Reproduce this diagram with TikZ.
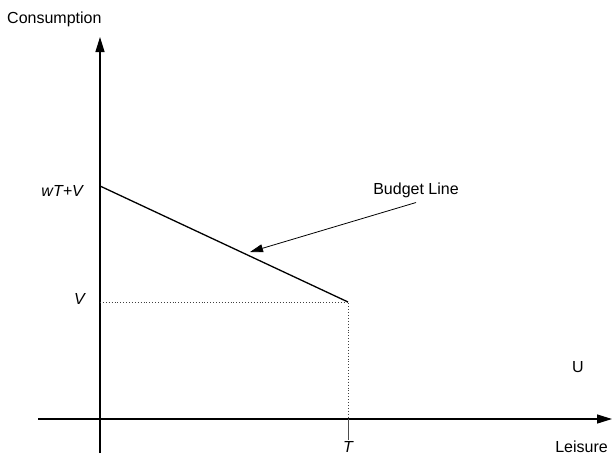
\documentclass[tikz,border=0pt]{standalone}
\usepackage{fontspec}
\setmainfont{Liberation Sans}
\usetikzlibrary{arrows.meta}

\tikzset{
  axis/.style={black,line width=1.3pt,-{Triangle[length=15pt,width=9pt]}},
  lbl/.style={inner sep=0pt,font=\fontsize{16}{19}\selectfont},
  guide/.style={black!75,dotted,line width=0.9pt}
}

\begin{document}
\begin{tikzpicture}[x=1pt,y=-1pt]
\useasboundingbox (0,0) rectangle (612,455);

% axes
\coordinate (ybot) at (100,453);
\coordinate (ytop) at (100,37);
\coordinate (xleft) at (38,419);
\coordinate (xright) at (612,419);
\draw[axis] (ybot) -- (ytop);
\draw[axis] (xleft) -- (xright);

% budget line
\coordinate (A) at (100,186);
\coordinate (K) at (348,302);
\coordinate (Vp) at (100,302);
\coordinate (Tp) at (348,419);
\coordinate (Tb) at (348,440);
\draw[black,line width=1.3pt] (A) -- (K);
\draw[guide] (Vp) -- (K) -- (Tp);
\draw[black!70,line width=0.9pt] (Tp) -- (Tb);

% labels
\node[lbl,anchor=base west] (cons) at (7,23) {Consumption};
\node[lbl,anchor=base east] (wtv) at (83,196) {\itshape wT+V};
\node[lbl,anchor=base east] (v) at (85,304) {\itshape V};
\node[lbl,anchor=base] (t) at (348,452) {\itshape T};
\node[lbl,anchor=base east] (leis) at (608,452) {Leisure};
\node[lbl,anchor=base] (u) at (578,372) {U};
\node[lbl,anchor=base] (bl) at (416,194) {Budget Line};

\coordinate (tip) at (250,252);
\draw[black,line width=0.8pt,-{Triangle[length=13pt,width=8pt]}] ([yshift=-5pt]bl.south) -- (tip);

\end{tikzpicture}
\end{document}
